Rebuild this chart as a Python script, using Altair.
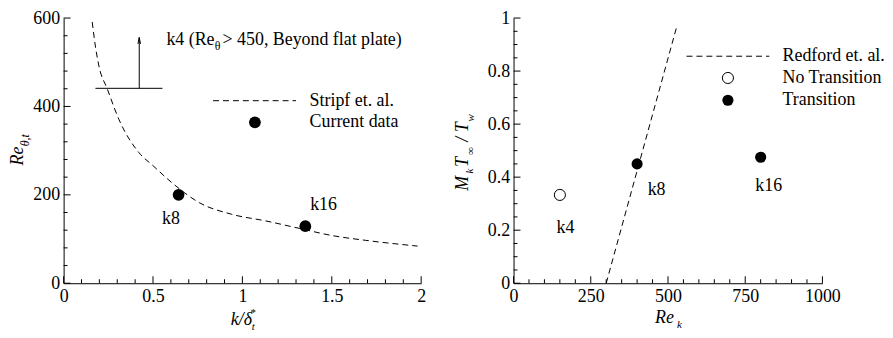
import altair as alt
import pandas as pd

FONT = "Liberation Serif"

# ---------------- left panel data ----------------
stripf_x = [0.16, 0.18, 0.20, 0.243, 0.31, 0.42, 0.50, 0.61, 0.76, 0.94, 1.13, 1.32, 1.50, 1.69, 1.98]
stripf_y = [591, 530, 487, 441, 370, 296, 266, 226, 182, 156, 141, 124, 108, 97, 84]
cur_x = [0.643, 1.352]
cur_y = [200, 129]
cur_names = ["k8", "k16"]
cur_label_x = [0.60, 1.454]
cur_label_y = [145, 176]

k4_bar_x = [0.178, 0.553]
k4_level = 441
k4_arrow_x = 0.423
k4_arrow_top = 556

left_x_major = [0, 0.5, 1, 1.5, 2]
left_x_minor = [0.1, 0.2, 0.3, 0.4, 0.6, 0.7, 0.8, 0.9, 1.1, 1.2, 1.3, 1.4, 1.6, 1.7, 1.8, 1.9]
left_y_major = [0, 200, 400, 600]
left_y_minor = [40, 80, 120, 160, 240, 280, 320, 360, 440, 480, 520, 560]

# ---------------- right panel data ----------------
redford_x = [300, 530]
redford_y = [0, 0.975]
rek = [150, 400, 800]
mk = [0.333, 0.45, 0.475]
transition = ["No Transition", "Transition", "Transition"]
names_r = ["k4", "k8", "k16"]
label_rx = [168, 463, 826]
label_ry = [0.207, 0.35, 0.368]

right_x_major = [0, 250, 500, 750, 1000]
right_x_minor = [50, 100, 150, 200, 300, 350, 400, 450, 550, 600, 650, 700, 800, 850, 900, 950]
right_y_major = [0, 0.2, 0.4, 0.6, 0.8, 1]
right_y_minor = [0.05, 0.1, 0.15, 0.25, 0.3, 0.35, 0.45, 0.5, 0.55, 0.65, 0.7, 0.75, 0.85, 0.9, 0.95]

LW, LH = 360, 267
RW, RH = 311, 267
MAJ, MIN = 7, 4
PT = 140


def axis(values):
    return alt.Axis(values=values, labelExpr="datum.value + ''", title=None, ticks=False, tickSize=0,
                    grid=False, labelPadding=4, domainColor="black", domainWidth=1,
                    labelFlush=False, labelOverlap=False,
                    labelFont=FONT, labelFontSize=18, labelColor="black")


def txt(s, x, y, size=18, italic=False, angle=0, align="center"):
    return alt.Chart(pd.DataFrame({"t": [s]})).mark_text(
        font=FONT, fontSize=size, fontStyle="italic" if italic else "normal",
        angle=angle, align=align, baseline="middle", color="black"
    ).encode(x=alt.value(x), y=alt.value(y), text="t:N")


def panel_ticks(xs_maj, xs_min, ys_maj, ys_min, X, Y, H):
    layers = []
    for vals, ln in ((xs_maj, MAJ), (xs_min, MIN)):
        layers.append(alt.Chart(pd.DataFrame({"x": vals})).mark_rule(color="black", strokeWidth=1)
                      .encode(x=X, y=alt.value(H), y2=alt.value(H - ln)))
    for vals, ln in ((ys_maj, MAJ), (ys_min, MIN)):
        layers.append(alt.Chart(pd.DataFrame({"y": vals})).mark_rule(color="black", strokeWidth=1)
                      .encode(y=Y, x=alt.value(0), x2=alt.value(ln)))
    return layers


# ================= LEFT =================
XL = alt.X("x:Q", scale=alt.Scale(domain=[0, 2], nice=False, zero=False), axis=axis(left_x_major))
YL = alt.Y("y:Q", scale=alt.Scale(domain=[0, 600], nice=False, zero=False), axis=axis(left_y_major))

stripf = alt.Chart(pd.DataFrame({"x": stripf_x, "y": stripf_y})).mark_line(
    color="black", strokeWidth=1, strokeDash=[6, 4], interpolate="monotone").encode(x=XL, y=YL)
cur = alt.Chart(pd.DataFrame({"x": cur_x, "y": cur_y})).mark_point(
    shape="circle", filled=True, size=PT, color="black", opacity=1).encode(x=XL, y=YL)
cur_lab = alt.Chart(pd.DataFrame({"x": cur_label_x, "y": cur_label_y, "t": cur_names})).mark_text(
    font=FONT, fontSize=18, color="black").encode(x=XL, y=YL, text="t:N")

k4_bar = alt.Chart(pd.DataFrame({"x": [k4_bar_x[0]], "x2": [k4_bar_x[1]], "y": [k4_level]})).mark_rule(
    color="black", strokeWidth=1).encode(x=XL, x2="x2:Q", y=YL)
k4_arrow = alt.Chart(pd.DataFrame({"x": [k4_arrow_x], "y": [k4_level], "y2": [k4_arrow_top]})).mark_rule(
    color="black", strokeWidth=1).encode(x=XL, y=YL, y2="y2:Q")
k4_head = alt.Chart(pd.DataFrame({"x": [k4_arrow_x], "y": [k4_arrow_top - 7.2]})).mark_point(
    shape="M-0.4,1L0,-1L0.4,1", filled=False, size=42, color="black", strokeWidth=1, opacity=1
).encode(x=XL, y=YL)
k4_t1 = alt.Chart(pd.DataFrame({"x": [0.844], "y": [550], "t": ["k4 (Re"]})).mark_text(
    font=FONT, fontSize=18, align="right", baseline="middle", color="black").encode(x=XL, y=YL, text="t:N")
k4_t2 = alt.Chart(pd.DataFrame({"x": [0.861], "y": [537], "t": ["θ"]})).mark_text(
    font=FONT, fontSize=12, align="center", baseline="middle", color="black").encode(x=XL, y=YL, text="t:N")
k4_t3 = alt.Chart(pd.DataFrame({"x": [0.889], "y": [550], "t": ["> 450, Beyond flat plate)"]})).mark_text(
    font=FONT, fontSize=18, align="left", baseline="middle", color="black").encode(x=XL, y=YL, text="t:N")

leg_line = alt.Chart(pd.DataFrame({"x": [0.836], "x2": [1.30], "y": [413]})).mark_rule(
    color="black", strokeWidth=1, strokeDash=[6, 4]).encode(x=XL, x2="x2:Q", y=YL)
leg_pt = alt.Chart(pd.DataFrame({"x": [1.07], "y": [364]})).mark_point(
    shape="circle", filled=True, size=PT, color="black", opacity=1).encode(x=XL, y=YL)
leg_txt = alt.Chart(pd.DataFrame({"x": [1.376, 1.376], "y": [413, 364],
                                  "t": ["Stripf et. al.", "Current data"]})).mark_text(
    font=FONT, fontSize=18, align="left", baseline="middle", color="black").encode(x=XL, y=YL, text="t:N")

left_titles = [
    txt("Re", -46, 139, italic=True, angle=270),
    txt("θ,t", -39, 123, size=12, italic=True, angle=270),
    txt("k/δ", 179, 304, italic=True),
    txt("*", 191, 297, size=11),
    txt("t", 191, 311, size=11, italic=True),
]

left = alt.layer(
    stripf, cur, cur_lab, k4_bar, k4_arrow, k4_head, k4_t1, k4_t2, k4_t3,
    leg_line, leg_pt, leg_txt,
    *panel_ticks(left_x_major, left_x_minor, left_y_major, left_y_minor, XL, YL, LH),
    *left_titles
).properties(width=LW, height=LH)

# ================= RIGHT =================
XR = alt.X("x:Q", scale=alt.Scale(domain=[0, 1000], nice=False, zero=False), axis=axis(right_x_major))
YR = alt.Y("y:Q", scale=alt.Scale(domain=[0, 1], nice=False, zero=False), axis=axis(right_y_major))

redford = alt.Chart(pd.DataFrame({"x": redford_x, "y": redford_y})).mark_line(
    color="black", strokeWidth=1, strokeDash=[6, 4]).encode(x=XR, y=YR)
pts = pd.DataFrame({"x": rek, "y": mk, "s": transition})
open_pts = alt.Chart(pts[pts.s == "No Transition"]).mark_point(
    shape="circle", filled=False, size=PT - 15, color="black", strokeWidth=1, opacity=1).encode(x=XR, y=YR)
fill_pts = alt.Chart(pts[pts.s == "Transition"]).mark_point(
    shape="circle", filled=True, size=PT - 15, color="black", opacity=1).encode(x=XR, y=YR)
r_lab = alt.Chart(pd.DataFrame({"x": label_rx, "y": label_ry, "t": names_r})).mark_text(
    font=FONT, fontSize=18, color="black").encode(x=XR, y=YR, text="t:N")

r_leg_line = alt.Chart(pd.DataFrame({"x": [560], "x2": [828], "y": [0.856]})).mark_rule(
    color="black", strokeWidth=1, strokeDash=[6, 4]).encode(x=XR, x2="x2:Q", y=YR)
r_leg_open = alt.Chart(pd.DataFrame({"x": [694], "y": [0.774]})).mark_point(
    shape="circle", filled=False, size=PT - 15, color="black", strokeWidth=1, opacity=1).encode(x=XR, y=YR)
r_leg_fill = alt.Chart(pd.DataFrame({"x": [694], "y": [0.69]})).mark_point(
    shape="circle", filled=True, size=PT - 15, color="black", opacity=1).encode(x=XR, y=YR)
r_leg_txt = alt.Chart(pd.DataFrame({"x": [871, 871, 871], "y": [0.856, 0.774, 0.69],
                                    "t": ["Redford et. al.", "No Transition", "Transition"]})).mark_text(
    font=FONT, fontSize=18, align="left", baseline="middle", color="black").encode(x=XR, y=YR, text="t:N")

right_titles = [
    txt("M", -51, 166.5, italic=True, angle=270),
    txt("k", -44, 154, size=11, italic=True, angle=270),
    txt("T", -51, 145, italic=True, angle=270),
    txt("∞", -43, 134, size=11, angle=270),
    txt("/", -51, 122, italic=True, angle=270),
    txt("T", -51, 110, italic=True, angle=270),
    txt("w", -43, 100.5, size=11, italic=True, angle=270),
    txt("Re", 152, 302, italic=True),
    txt("k", 167, 309, size=11, italic=True),
]

right = alt.layer(
    redford, open_pts, fill_pts, r_lab, r_leg_line, r_leg_open, r_leg_fill, r_leg_txt,
    *panel_ticks(right_x_major, right_x_minor, right_y_major, right_y_minor, XR, YR, RH),
    *right_titles
).properties(width=RW, height=RH)

chart = alt.hconcat(left, right, spacing=28).properties(
    padding={"left": 1, "top": 0, "right": 0, "bottom": 0}, background="white"
).configure_view(stroke=None)

chart.save("out.html", embed_options={"renderer": "svg", "actions": False})
